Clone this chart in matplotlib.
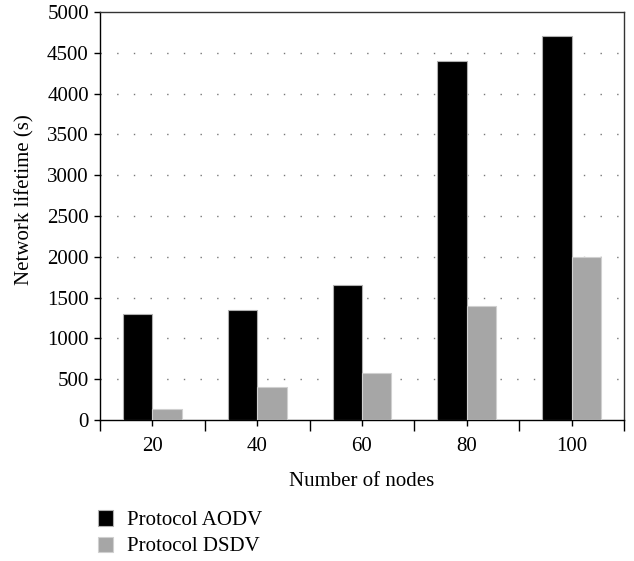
import matplotlib.pyplot as plt
import numpy as np
from matplotlib.ticker import FixedLocator

# ----- Data -----
nodes = ["20", "40", "60", "80", "100"]
aodv = [1300, 1350, 1650, 4400, 4700]
dsdv = [140, 400, 580, 1400, 2000]
y_ticks = [0, 500, 1000, 1500, 2000, 2500, 3000, 3500, 4000, 4500, 5000]

plt.rcParams['font.family'] = ['Liberation Serif', 'DejaVu Serif']
fs = 15

fig = plt.figure(figsize=(6.34, 5.61), dpi=100)
ax = fig.add_axes([0.1577, 0.2513, 0.8265, 0.7273])

x = np.arange(len(nodes))
w = 0.28
ax.bar(x - w / 2, aodv, w, color='black', edgecolor='#b0b0b0', linewidth=0.8,
       label='Protocol AODV', zorder=3)
ax.bar(x + w / 2, dsdv, w, color='#a6a6a6', edgecolor='#d0d0d0', linewidth=0.8,
       label='Protocol DSDV', zorder=3)

ax.set_xlim(-0.5, len(nodes) - 0.5)
ax.set_ylim(0, 5000)
ax.set_yticks(y_ticks)
ax.set_xticks(x)
ax.set_xticklabels(nodes)
ax.xaxis.set_minor_locator(FixedLocator(np.arange(len(nodes) + 1) - 0.5))

# dotted horizontal guides
for yv in y_ticks[1:-1]:
    ax.axhline(yv, color='#777777', linewidth=1.0, linestyle=(0, (1, 11)), zorder=1)

for s in ax.spines.values():
    s.set_color('#333333')
    s.set_linewidth(1.0)
ax.spines['bottom'].set_color('black')
ax.spines['left'].set_color('black')

ax.tick_params(axis='x', which='major', direction='out', length=4, width=1,
               labelsize=fs, pad=8)
ax.tick_params(axis='x', which='minor', direction='out', length=8, width=1)
ax.tick_params(axis='y', direction='out', length=4, width=1, labelsize=fs, pad=4)

ax.set_xlabel('Number of nodes', fontsize=fs, labelpad=12)
ax.set_ylabel('Network lifetime (s)', fontsize=fs)
ax.yaxis.set_label_coords(-0.125, 0.54)

fig.legend(loc='upper left', bbox_to_anchor=(0.141, 0.105), frameon=False,
           fontsize=fs, handlelength=0.75, handleheight=0.75, handletextpad=0.65,
           labelspacing=0.3, borderaxespad=0)

fig.savefig('out.png', dpi=100)
